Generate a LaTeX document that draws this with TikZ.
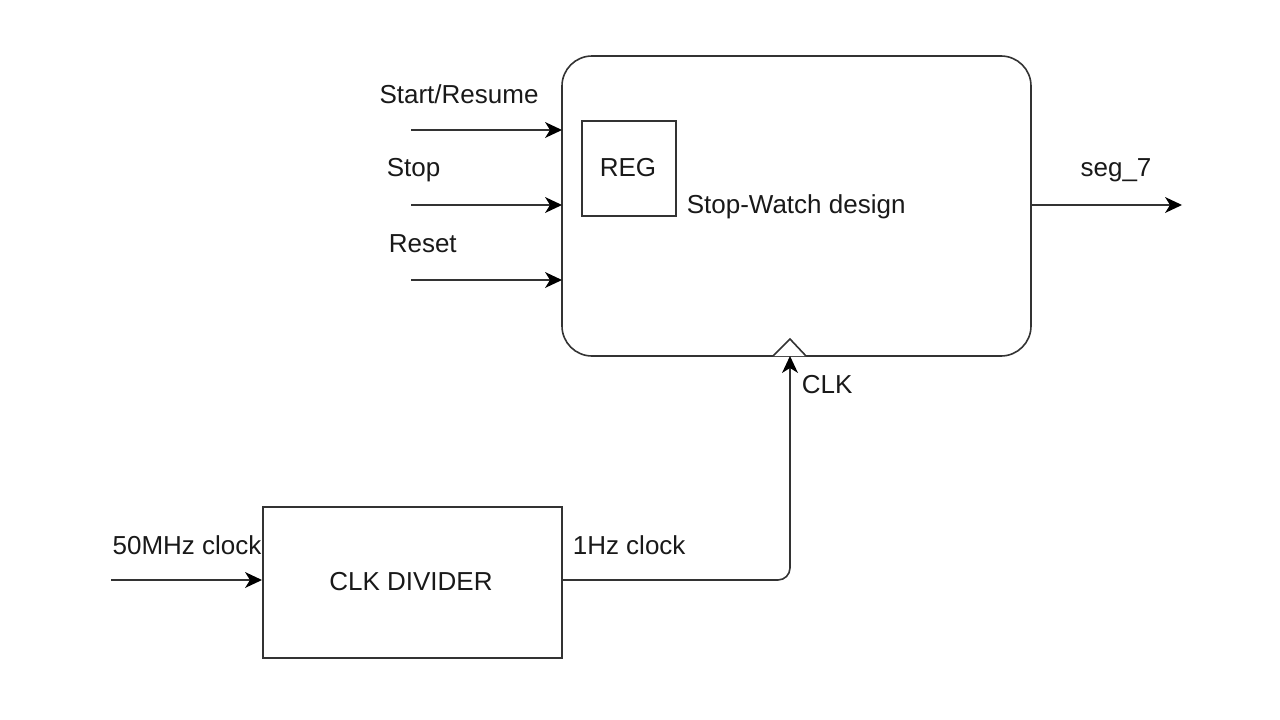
\documentclass[tikz,border=0pt]{standalone}
\usepackage{fontspec}
\setmainfont{Liberation Sans}
\usetikzlibrary{arrows.meta}
\begin{document}
\begin{tikzpicture}[x=1pt,y=-1pt,
  line width=1.6pt,
  lbl/.style={font=\fontsize{26}{30}\selectfont, inner sep=0pt, text=black!90},
  arr/.style={draw=black!80, -{Stealth[length=17pt,width=16pt,inset=5pt,line width=0pt,fill=black]}},
  blk/.style={draw=black!80}]
\useasboundingbox (0,0) rectangle (1280,720);
% main block
\draw[blk, rounded corners=30pt] (562,56) rectangle (1031,356);
\coordinate (mainW1) at (562,130);
\coordinate (mainW2) at (562,205);
\coordinate (mainW3) at (562,280);
\coordinate (mainE) at (1031,205);
\node[draw=black!80, minimum width=94pt, minimum height=95pt, inner sep=0pt, anchor=north west, lbl] (reg) at (581,120) {};
\node[lbl] at (628,168) {REG};
\node[lbl, anchor=west] (swd) at (686,207) {Stop-Watch design};
% clock triangle
\draw[blk, fill=white] (773,356) -- (790,339) -- (806,356);
\coordinate (clkin) at (790,356);
\node[lbl, anchor=west] (clk) at (801,385) {CLK};
% inputs
\coordinate (i1) at (411,130);
\coordinate (i2) at (411,205);
\coordinate (i3) at (411,280);
\draw[arr] (i1) -- (mainW1);
\draw[arr] (i2) -- (mainW2);
\draw[arr] (i3) -- (mainW3);
\node[lbl] (l1) at (459,94) {Start/Resume};
\node[lbl, anchor=west] (l2) at (386,170) {Stop};
\node[lbl, anchor=west] (l3) at (388,244) {Reset};
% output
\coordinate (o1) at (1182,205);
\draw[arr] (mainE) -- (o1);
\node[lbl] (lo) at (1116,170) {seg\_7};
% clock divider
\node[draw=black!80, minimum width=299pt, minimum height=151pt, inner sep=0pt, anchor=north west] (div) at (262,506) {};
\node[lbl] at (411,582) {CLK DIVIDER};
\coordinate (ci) at (111,580);
\draw[arr] (ci) -- (262,580);
\node[lbl] (l50) at (187,545) {50MHz clock};
\node[lbl, anchor=west] (l1hz) at (572,545) {1Hz clock};
\draw[arr, rounded corners=12pt] (561,580) -- (790,580) -- (clkin);
\end{tikzpicture}
\end{document}
